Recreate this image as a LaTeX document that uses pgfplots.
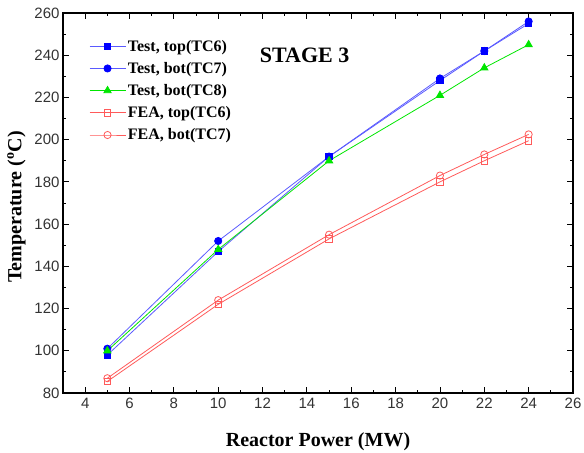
\documentclass[border=0pt]{standalone}
\usepackage{pgfplots}
\pgfplotsset{compat=1.18}
\usepackage{fontspec}
\setmainfont{Liberation Serif}
\newfontfamily\arialf{Liberation Sans}
\definecolor{tblue}{RGB}{0,0,255}
\definecolor{tlblue}{RGB}{90,90,255}
\definecolor{tgreen}{RGB}{0,230,0}
\definecolor{tred}{RGB}{255,90,90}
\begin{document}
\begin{tikzpicture}
\begin{axis}[
  scale only axis,
  width=510bp, height=380bp,
  xmin=3, xmax=26, ymin=80, ymax=260,
  xtick={4,6,...,26}, ytick={80,100,...,260},
  minor x tick num=1, minor y tick num=1,
  tick align=inside,
  major tick length=6bp, minor tick length=3.5bp,
  tick style={black, line width=0.9pt},
  axis line style={line width=1.2pt},
  /pgf/number format/assume math mode=true,
  ticklabel style={font=\arialf\fontsize{15bp}{17bp}\selectfont, text=black!80},
  xticklabel style={yshift=-2bp},
  xlabel={\textbf{Reactor Power (MW)}},
  ylabel={\textbf{Temperature (\textsuperscript{o}C)}},
  label style={font=\fontsize{20bp}{23bp}\selectfont},
  xlabel style={yshift=-17bp},
  ylabel style={yshift=2bp, xshift=-4bp},
  legend style={draw=none, fill=none, at={(0.045,0.94)}, anchor=north west,
    font=\bfseries\fontsize{16bp}{18bp}\selectfont, row sep=5.6bp},
  legend cell align=left,
  legend image code/.code={\draw[mark repeat=2,mark phase=2] plot coordinates {(0bp,0bp) (18bp,0bp) (36bp,0bp)};},
]
\addplot[tlblue, line width=0.8pt, mark=square*, mark size=3.2bp, mark options={tblue, fill=tblue}]
  coordinates {(5,98) (10,147) (15,192) (20,228) (22,242) (24,255)};
\addlegendentry{Test, top(TC6)}
\addplot[tlblue, line width=0.8pt, mark=*, mark size=3.6bp, mark options={tblue, fill=tblue}]
  coordinates {(5,101) (10,152) (15,192) (20,229) (22,242) (24,256)};
\addlegendentry{Test, bot(TC7)}
\addplot[tgreen, line width=0.8pt, mark=triangle*, mark size=4.2bp, mark options={tgreen, fill=tgreen}]
  coordinates {(5,100) (10,148) (15,190) (20,221) (22,234) (24,245)};
\addlegendentry{Test, bot(TC8)}
\addplot[tred, line width=0.8pt, mark=square, mark size=3.2bp, mark options={tred, fill=white}]
  coordinates {(5,85.5) (10,122) (15,153) (20,180) (22,190) (24,199.5)};
\addlegendentry{FEA, top(TC6)}
\addplot[tred, line width=0.8pt, mark=o, mark size=3.6bp, mark options={tred, fill=white}]
  coordinates {(5,87) (10,124) (15,155) (20,183) (22,193) (24,202.5)};
\addlegendentry{FEA, bot(TC7)}
\node[font=\bfseries\fontsize{22bp}{24bp}\selectfont] at (axis cs:13.9,240) {STAGE 3};
\end{axis}
\pgfresetboundingbox
\path (current axis.south west) ++(-63bp,-60bp) rectangle ([shift={(11bp,13bp)}]current axis.north east);
\end{tikzpicture}
\end{document}
